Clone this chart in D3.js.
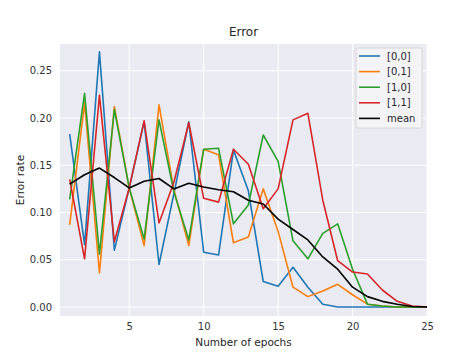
<!DOCTYPE html>
<html>
<head>
<meta charset="utf-8">
<script src="https://cdn.jsdelivr.net/npm/d3@7"></script>
<style>
  html, body { margin: 0; padding: 0; background: #ffffff; }
  svg { display: block; }
  text { font-family: "DejaVu Sans", sans-serif; }
</style>
</head>
<body>
<div id="chart"></div>
<script>
const epochs = d3.range(1, 26);
const s00 = [0.183, 0.066, 0.270, 0.060, 0.126, 0.196, 0.045, 0.120, 0.196, 0.058, 0.055, 0.166, 0.123, 0.027, 0.022, 0.042, 0.021, 0.003, 0.000, 0.000, 0.000, 0.000, 0.000, 0.000, 0.000];
const s01 = [0.087, 0.216, 0.036, 0.212, 0.126, 0.065, 0.214, 0.124, 0.065, 0.167, 0.161, 0.068, 0.074, 0.125, 0.080, 0.021, 0.011, 0.017, 0.024, 0.013, 0.003, 0.001, 0.000, 0.000, 0.000];
const s10 = [0.114, 0.226, 0.056, 0.209, 0.126, 0.072, 0.198, 0.122, 0.071, 0.167, 0.168, 0.088, 0.108, 0.182, 0.154, 0.070, 0.051, 0.078, 0.088, 0.040, 0.003, 0.001, 0.000, 0.000, 0.000];
const s11 = [0.135, 0.051, 0.224, 0.069, 0.126, 0.197, 0.089, 0.132, 0.195, 0.115, 0.111, 0.167, 0.151, 0.104, 0.125, 0.198, 0.205, 0.113, 0.049, 0.037, 0.035, 0.018, 0.006, 0.001, 0.000];
const sMean = [0.130, 0.140, 0.147, 0.137, 0.126, 0.133, 0.136, 0.125, 0.131, 0.127, 0.124, 0.122, 0.113, 0.109, 0.093, 0.082, 0.071, 0.053, 0.040, 0.021, 0.011, 0.006, 0.003, 0.0005, 0.000];
const seriesNames = ["[0,0]", "[0,1]", "[1,0]", "[1,1]", "mean"];
const seriesValues = [s00, s01, s10, s11, sMean];
const seriesColors = ["#1f77b4", "#ff7f0e", "#2ca02c", "#d62728", "#000000"];
const xTicks = [5, 10, 15, 20, 25];
const yTicks = [0, 0.05, 0.10, 0.15, 0.20, 0.25];
const titleText = "Error";
const xLabel = "Number of epochs";
const yLabel = "Error rate";

const W = 474, H = 355;
const L = 60, R = 427, T = 44, B = 316;

const svg = d3.select("#chart").append("svg").attr("width", W).attr("height", H);

const x = d3.scaleLinear().domain([0.35, 25]).range([L, R]);
const y = d3.scaleLinear().domain([-0.0095, 0.2783]).range([B, T]);

svg.append("rect").attr("x", L).attr("y", T).attr("width", R - L).attr("height", B - T).attr("fill", "#eaeaf2");

// gridlines
svg.append("g").selectAll("line").data(yTicks).join("line")
  .attr("x1", L).attr("x2", R).attr("y1", d => y(d)).attr("y2", d => y(d))
  .attr("stroke", "#ffffff").attr("stroke-width", 1);
svg.append("g").selectAll("line").data(xTicks).join("line")
  .attr("y1", T).attr("y2", B).attr("x1", d => x(d)).attr("x2", d => x(d))
  .attr("stroke", "#ffffff").attr("stroke-width", 1);

// axes (labels only)
const xAxis = svg.append("g").attr("transform", `translate(0,${B})`)
  .call(d3.axisBottom(x).tickValues(xTicks).tickSize(0).tickPadding(7).tickFormat(d3.format("d")));
const yAxis = svg.append("g").attr("transform", `translate(${L},0)`)
  .call(d3.axisLeft(y).tickValues(yTicks).tickSize(0).tickPadding(8).tickFormat(d3.format(".2f")));
[xAxis, yAxis].forEach(a => {
  a.select(".domain").remove();
  a.selectAll("text").attr("font-size", 10).attr("fill", "#333333").attr("font-family", "DejaVu Sans, sans-serif");
});

// lines
const line = d3.line().x((d, i) => x(epochs[i])).y(d => y(d));
const g = svg.append("g");
seriesValues.forEach((vals, k) => {
  g.append("path").datum(vals).attr("d", line)
    .attr("fill", "none").attr("stroke", seriesColors[k])
    .attr("stroke-width", 1.6).attr("stroke-linejoin", "round");
});

// title and labels
svg.append("text").attr("x", (L + R) / 2).attr("y", 36).attr("text-anchor", "middle")
  .attr("font-size", 12).attr("fill", "#262626").text(titleText);
svg.append("text").attr("x", (L + R) / 2).attr("y", 346).attr("text-anchor", "middle")
  .attr("font-size", 10.5).attr("fill", "#262626").text(xLabel);
svg.append("text").attr("transform", `translate(24,${(T + B) / 2}) rotate(-90)`).attr("text-anchor", "middle")
  .attr("font-size", 10.5).attr("fill", "#262626").text(yLabel);

// legend
const lg = svg.append("g").attr("transform", "translate(356,48)");
lg.append("rect").attr("x", 0).attr("y", 0).attr("width", 66).attr("height", 80).attr("rx", 2)
  .attr("fill", "#f4f4f8").attr("stroke", "#d0d0d0").attr("stroke-width", 0.8);
seriesNames.forEach((n, k) => {
  const yy = 8 + k * 15.6;
  lg.append("line").attr("x1", 3).attr("x2", 24).attr("y1", yy).attr("y2", yy)
    .attr("stroke", seriesColors[k]).attr("stroke-width", 1.6);
  lg.append("text").attr("x", 31).attr("y", yy + 3.6).attr("font-size", 10).attr("fill", "#262626").text(n);
});
</script>
</body>
</html>
